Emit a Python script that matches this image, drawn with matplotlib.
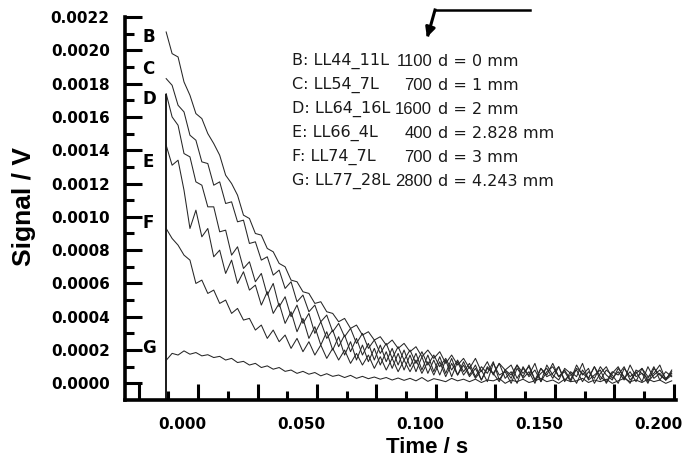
import numpy as np
import matplotlib.pyplot as plt
from matplotlib.lines import Line2D

plt.rcParams['font.family'] = ['DejaVu Sans']

# sampling of the traces (s)
T0 = -0.0067
DT = 0.0025

# signals, units of 1e-4 V
B = [21.1, 19.8, 19.6, 18.1, 17.3, 16.2, 15.9, 15.0, 14.4, 13.7, 12.5, 12.0, 11.3, 10.1, 9.9,
     9.0, 8.9, 8.1, 7.9, 7.2, 7.0, 6.2, 6.1, 5.5, 5.4, 4.8, 4.9, 4.3, 4.2, 3.7, 3.9, 3.3, 3.5,
     2.9, 3.1, 2.6, 2.8, 2.3, 2.6, 2.1, 2.4, 1.9, 2.2, 1.6, 2.0, 1.5, 1.9, 1.2, 1.7, 1.1, 1.5,
     0.9, 1.5, 0.7, 1.3, 0.5, 1.2, 0.8, 0.3, 1.1, 0.6, 1.0, 0.2, 0.9, 0.5, 1.2, 0.4, 0.7, 0.1,
     0.9, 0.6, 0.3, 1.0, 0.2, 0.8, 0.5, 0.0, 0.9, 0.4, 0.7, 0.1, 1.0, 0.3, 0.6, 0.2, 0.8]
C = [18.3, 17.9, 16.7, 16.3, 14.9, 14.6, 13.3, 13.2, 11.9, 12.1, 10.8, 10.9, 9.7, 9.8, 8.4,
     8.5, 7.4, 7.6, 6.5, 6.8, 5.7, 6.1, 4.9, 5.3, 4.3, 4.7, 3.7, 4.1, 3.1, 3.6, 2.8, 3.3, 2.4,
     3.0, 2.1, 2.6, 1.8, 2.4, 1.5, 2.2, 1.4, 2.0, 1.2, 1.9, 1.1, 1.7, 1.0, 1.5, 0.8, 1.4, 0.7,
     1.2, 0.4, 1.0, 0.6, 1.3, 0.2, 0.8, 1.1, 0.3, 0.9, 0.5, 1.2, 0.1, 0.7, 1.0, 0.4, 0.8, 0.2,
     1.1, 0.5, 0.9, 0.0, 0.6, 1.0, 0.3, 0.7, 0.2, 1.1, 0.4, 0.6, 0.0, 0.9, 0.5, 0.2, 0.7]
D = [17.4, 16.0, 15.5, 13.8, 13.6, 12.1, 11.9, 10.6, 10.6, 9.1, 9.2, 7.7, 8.2, 6.9, 7.3,
     6.1, 6.6, 5.3, 6.0, 4.6, 5.2, 4.0, 4.7, 3.6, 4.2, 3.0, 3.7, 2.7, 3.2, 2.2, 2.9, 1.9, 2.7,
     1.7, 2.4, 1.4, 2.3, 1.3, 2.1, 1.1, 2.0, 1.0, 1.8, 0.8, 1.7, 0.7, 1.6, 0.6, 1.5, 0.5, 1.3,
     0.5, 1.1, 0.2, 0.9, 0.6, 1.2, 0.3, 0.7, 0.0, 1.0, 0.4, 0.8, 0.1, 1.1, 0.5, 0.2, 0.9, 0.6,
     0.0, 0.8, 0.3, 1.0, 0.4, 0.1, 0.7, 0.5, 1.0, 0.2, 0.6, 0.9, 0.1, 0.5, 0.8, 0.3, 0.6]
E = [14.3, 13.1, 13.4, 11.6, 9.3, 10.4, 8.8, 9.3, 7.6, 8.0, 6.6, 7.4, 6.0, 6.7, 5.6,
     5.9, 4.7, 5.5, 4.2, 4.8, 3.6, 4.3, 3.1, 3.9, 2.7, 3.4, 2.3, 3.1, 2.0, 2.8, 1.7, 2.5, 1.4,
     2.3, 1.3, 2.1, 1.1, 1.9, 0.9, 1.8, 0.8, 1.7, 0.7, 1.6, 0.6, 1.4, 0.5, 1.4, 0.4, 1.3, 0.5,
     1.0, 0.3, 0.8, 0.1, 1.2, 0.5, 0.7, 0.0, 0.9, 0.4, 1.1, 0.2, 0.6, 0.9, 0.3, 1.0, 0.1, 0.7,
     0.4, 1.2, 0.2, 0.5, 0.8, 0.0, 0.6, 1.0, 0.3, 0.7, 0.1, 0.9, 0.4, 0.6, 1.1, 0.2, 0.5]
F = [9.3, 8.7, 8.3, 7.7, 7.4, 6.0, 6.2, 5.4, 5.6, 4.8, 5.0, 4.2, 4.5, 3.8, 3.9,
     3.2, 3.5, 2.7, 3.2, 2.5, 2.9, 2.1, 2.7, 1.9, 2.5, 1.7, 2.3, 1.5, 2.1, 1.4, 2.0, 1.2, 1.8,
     1.1, 1.7, 0.9, 1.6, 0.8, 1.5, 0.7, 1.4, 0.7, 1.4, 0.6, 1.3, 0.5, 1.3, 0.4, 1.2, 0.5, 1.1,
     0.4, 0.9, 0.2, 1.0, 0.6, 0.1, 0.8, 0.5, 1.1, 0.3, 0.7, 0.0, 0.9, 0.4, 0.6, 1.0, 0.2, 0.5,
     0.8, 0.1, 0.7, 0.3, 1.0, 0.5, 0.2, 0.9, 0.4, 0.0, 0.8, 0.6, 0.3, 1.0, 0.2, 0.7, 0.4]
G = [1.38, 1.8, 1.7, 1.95, 1.75, 1.85, 1.65, 1.72, 1.55, 1.62, 1.4, 1.5, 1.25, 1.32, 1.1,
     1.2, 0.95, 1.05, 0.85, 0.95, 0.72, 0.8, 0.6, 0.72, 0.55, 0.65, 0.45, 0.58, 0.42, 0.5,
     0.35, 0.48, 0.3, 0.42, 0.28, 0.38, 0.25, 0.35, 0.2, 0.32, 0.18, 0.3, 0.15, 0.35, 0.12,
     0.28, 0.2, 0.1, 0.3, 0.15, 0.25,
     0.1, 0.25, 0.05, 0.2, 0.15, 0.3, 0.0, 0.2, 0.1, 0.25, 0.05, 0.15, 0.3, 0.1, 0.2, 0.0,
     0.25, 0.1, 0.15, 0.3, 0.05, 0.2, 0.1, 0.25, 0.0, 0.15, 0.3, 0.1, 0.2, 0.05, 0.25, 0.1,
     0.2, 0.0, 0.15]

traces = [B, C, D, E, F, G]
letters = ['B', 'C', 'D', 'E', 'F', 'G']
letter_y = [20.8, 18.9, 17.1, 13.3, 9.6, 2.1]

names = ['B: LL44_11L', 'C: LL54_7L', 'D: LL64_16L', 'E: LL66_4L', 'F: LL74_7L', 'G: LL77_28L']
counts = ['1100', '700', '1600', '400', '700', '2800']
dists = ['d = 0 mm', 'd = 1 mm', 'd = 2 mm', 'd = 2.828 mm', 'd = 3 mm', 'd = 4.243 mm']

x_labels = [0.000, 0.050, 0.100, 0.150, 0.200]
y_labels = [0.0000, 0.0002, 0.0004, 0.0006, 0.0008, 0.0010, 0.0012,
            0.0014, 0.0016, 0.0018, 0.0020, 0.0022]

W, H = 682, 459
L, R, TOP, BOT = 125, 676, 17, 400


def axpos(px, py):
    return (px - L) / (R - L), (BOT - py) / (BOT - TOP)


fig = plt.figure(figsize=(W / 100, H / 100), dpi=100)
ax = fig.add_axes([L / W, 1 - BOT / H, (R - L) / W, (BOT - TOP) / H])

t = T0 + DT * np.arange(len(B))
for v in traces:
    ax.plot(t, np.array(v) * 1e-4, color='0.15', lw=0.75)
ax.vlines(t[0], -0.0001, D[0] * 1e-4, color='0.1', lw=1.4)

for s, yv in zip(letters, letter_y):
    ax.text(-0.0168, yv * 1e-4, s, ha='left', va='center', fontsize=12, fontweight='bold')

for i, (n, c, d) in enumerate(zip(names, counts, dists)):
    yy = 61 + 24 * i
    kw = dict(transform=ax.transAxes, va='center', color='0.1')
    ax.text(*axpos(292, yy), n, ha='left', fontsize=11.5, **kw)
    ax.text(*axpos(432, yy), c, ha='right', fontsize=12, fontfamily='Liberation Sans', **kw)
    ax.text(*axpos(438, yy), d, ha='left', fontsize=11.5, **kw)

ax.set_xlim(-0.024, 0.2076)
ax.set_ylim(-0.0001, 0.0022)

for side in ['top', 'right']:
    ax.spines[side].set_visible(False)
ax.spines['left'].set_linewidth(2.6)
ax.spines['bottom'].set_linewidth(2.6)

# tick marks on x sit off the labelled values, as in the figure
ax.set_xticks(np.arange(-0.0183, 0.208, 0.025))
ax.set_xticks(np.arange(-0.0058, 0.208, 0.025), minor=True)
ax.tick_params(axis='x', which='major', direction='in', length=11.5, width=2.2, labelbottom=False)
ax.tick_params(axis='x', which='minor', direction='in', length=6.5, width=2.2)

ax.set_yticks(y_labels, labels=['%.4f' % v for v in y_labels], fontweight='bold', fontsize=11)
ax.set_yticks(np.arange(0.0001, 0.0022, 0.0002), minor=True)
ax.tick_params(axis='y', which='major', direction='in', length=12, width=2.2, pad=11)
ax.tick_params(axis='y', which='minor', direction='in', length=6.5, width=2.2)

sec = ax.secondary_xaxis('bottom')
sec.set_ticks(x_labels, labels=['%.3f' % v for v in x_labels], fontweight='bold', fontsize=11)
sec.tick_params(length=0, pad=12)
sec.spines['bottom'].set_visible(False)

ax.set_xlabel('Time / s', fontfamily='Liberation Sans', fontweight='bold', fontsize=16)
ax.xaxis.set_label_coords(0.548, -0.0966)
ax.set_ylabel('Signal / V', fontfamily='Liberation Sans', fontweight='bold', fontsize=19)
ax.yaxis.set_label_coords(-0.183, 0.504)
ax.yaxis.label.set_va('center')

# arrow at the top
fig.add_artist(Line2D([530 / W, 435 / W], [1 - 10 / H, 1 - 10 / H],
                      transform=fig.transFigure, color='k', lw=1.8))
fig.add_artist(Line2D([435 / W, 428 / W], [1 - 10 / H, 1 - 35 / H],
                      transform=fig.transFigure, color='k', lw=2.2))
ax.annotate('', xy=(426 / W, 1 - 40 / H), xytext=(430 / W, 1 - 28 / H),
            xycoords='figure fraction', textcoords='figure fraction',
            arrowprops=dict(arrowstyle='-|>', lw=2.2, color='k', mutation_scale=14))

fig.savefig('out.png', dpi=100)
